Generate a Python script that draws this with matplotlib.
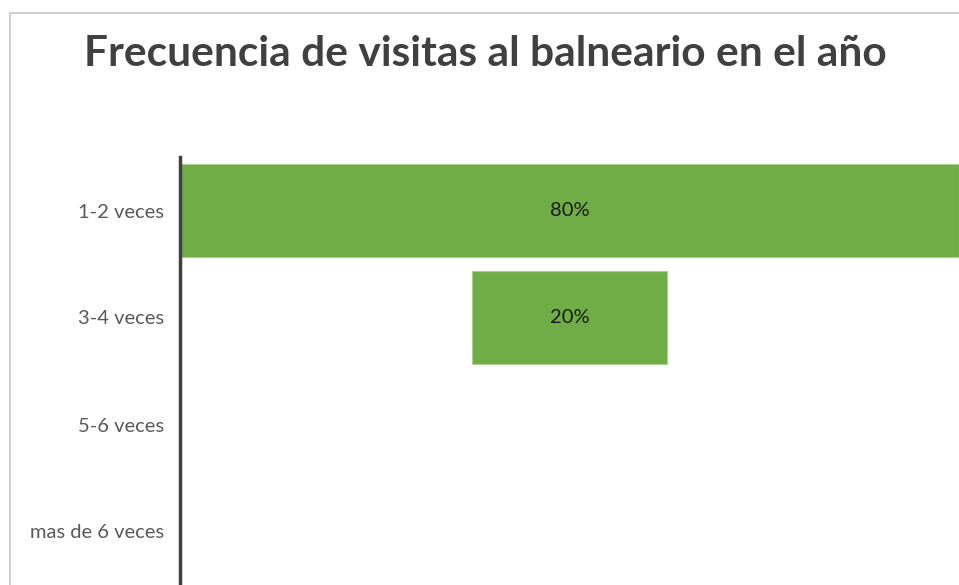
import matplotlib
matplotlib.use("Agg")
import matplotlib.pyplot as plt
from matplotlib.lines import Line2D

categorias = ["1-2 veces", "3-4 veces", "5-6 veces", "mas de 6 veces"]
porcentajes = [80, 20, 0, 0]
etiquetas = ["80%", "20%", "", ""]

plt.rcParams['font.family'] = ['Lato', 'DejaVu Sans']

fig = plt.figure(figsize=(9.59, 5.85), dpi=100)
ax = fig.add_axes([180 / 959, 0, 779 / 959, 428 / 585])

# funnel style: bars centred on the middle of the widest one
centro = max(porcentajes) / 2
izq = [centro - p / 2 for p in porcentajes]
bordes = [0.8 if p > 0 else 0 for p in porcentajes]
ax.barh(range(len(categorias)), porcentajes, left=izq, height=0.865,
        color="#70ad47", edgecolor="#a9d18e", linewidth=bordes)

for i, (p, lab) in enumerate(zip(porcentajes, etiquetas)):
    if lab:
        ax.text(centro, i, lab, ha="center", va="center", fontsize=14.5, color="#1a1a1a")

ax.set_xlim(0, 80)
ax.set_ylim(3.5, -0.5)
ax.set_yticks(range(len(categorias)))
ax.set_yticklabels(categorias, fontsize=14.5, color="#595959")
ax.tick_params(axis="y", length=0, pad=11.5)
ax.set_xticks([])
for s in ["top", "right", "bottom"]:
    ax.spines[s].set_visible(False)
ax.spines["left"].set_linewidth(2.5)
ax.spines["left"].set_color("#404040")

fig.text(485 / 959, 1 - 54 / 585, "Frecuencia de visitas al balneario en el año",
         ha="center", va="center", fontsize=30.6, fontweight="bold", color="#404040")

# outer chart border (cropped)
fig.add_artist(Line2D([10 / 959, 1], [1 - 12.5 / 585] * 2, color="#d0d0d0", lw=1.5))
fig.add_artist(Line2D([10 / 959] * 2, [0, 1 - 12.5 / 585], color="#d0d0d0", lw=1.5))

fig.savefig("out.png", dpi=100)
